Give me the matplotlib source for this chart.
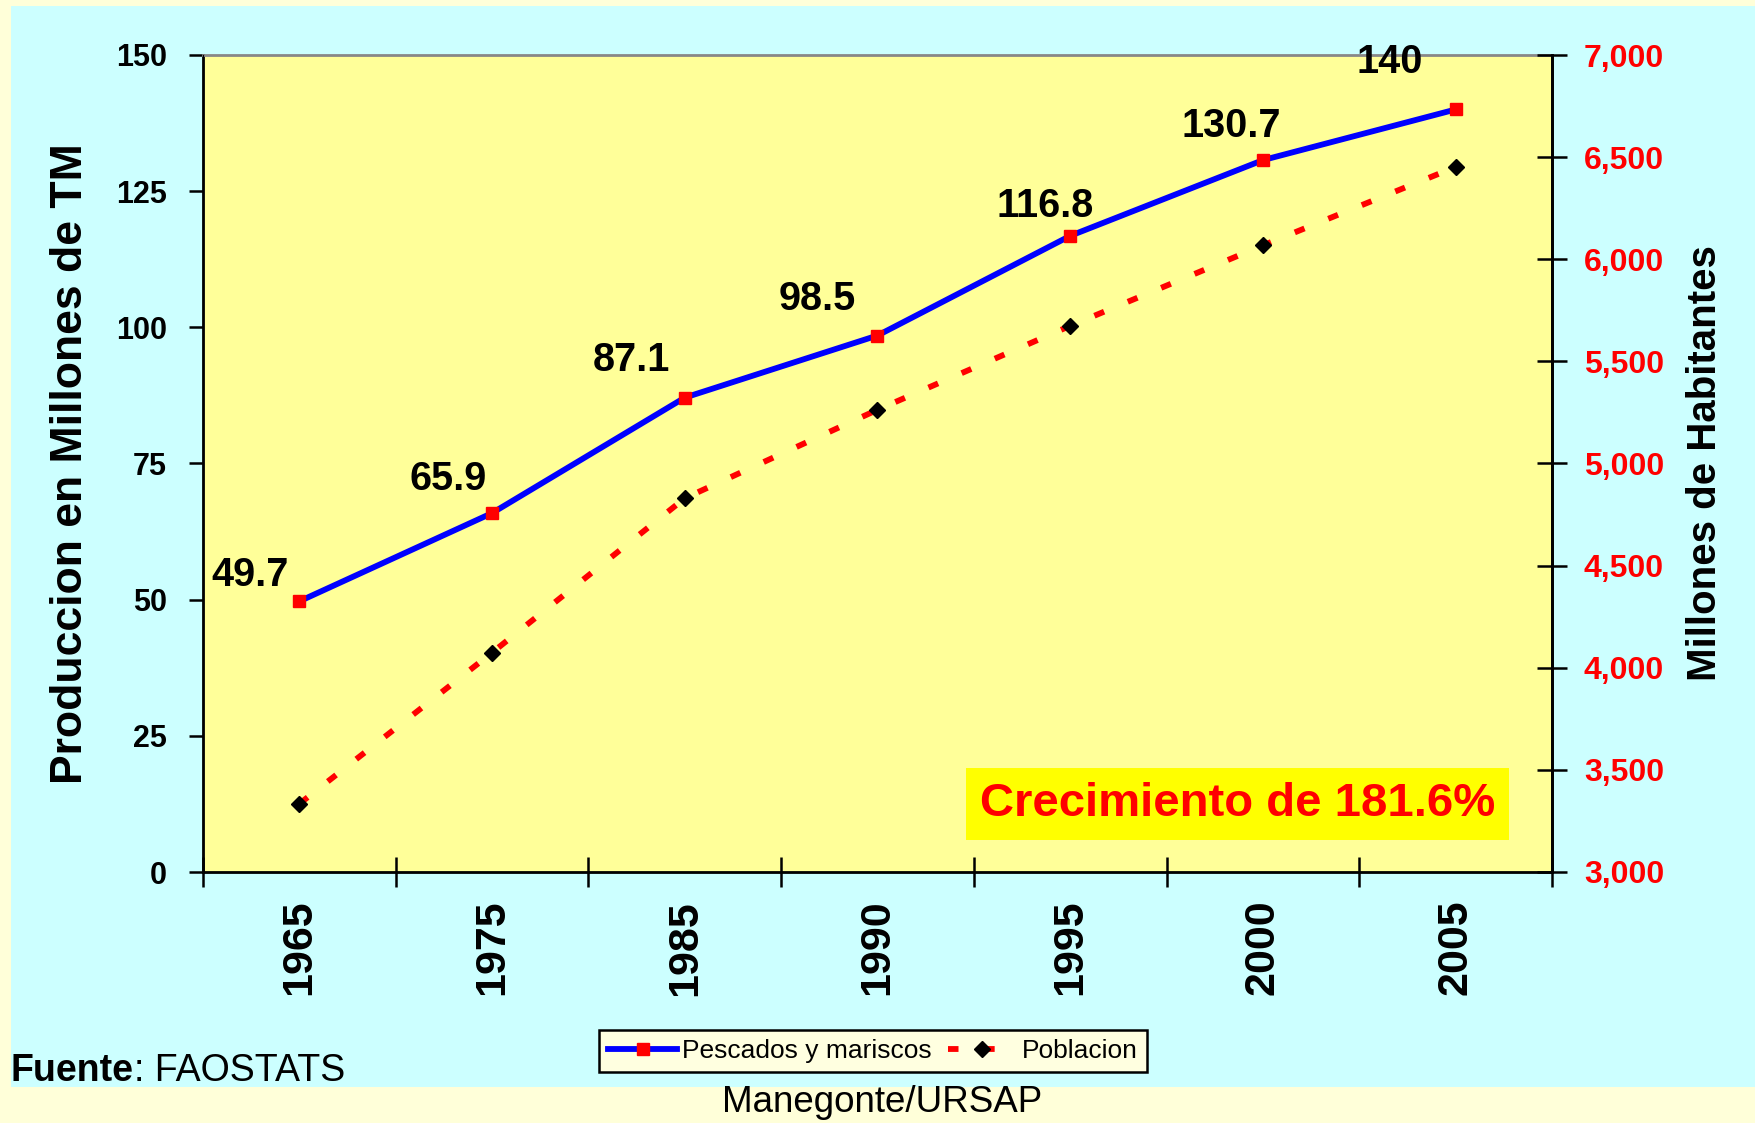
import numpy as np
import matplotlib.pyplot as plt
from matplotlib.patches import Rectangle
from matplotlib.ticker import FixedLocator, FuncFormatter

plt.rcParams['font.family'] = ['Liberation Sans', 'DejaVu Sans']

years = ['1965', '1975', '1985', '1990', '1995', '2000', '2005']
pescados = [49.7, 65.9, 87.1, 98.5, 116.8, 130.7, 140]
pescados_labels = ['49.7', '65.9', '87.1', '98.5', '116.8', '130.7', '140']
poblacion = [3334, 4074, 4830, 5263, 5674, 6068, 6452]

# label offsets in pixels (dx, dy) from each point
label_offsets = [(-49, 26), (-44, 34), (-53, 38), (-60, 37), (-25, 30), (-32, 34), (-66, 47)]

W, H = 1756, 1123
fig = plt.figure(figsize=(W / 100, H / 100), dpi=100, facecolor='#FFFFD9')

# cyan panel behind everything
fig.patches.append(Rectangle((11 / W, 1 - 1087 / H), 1 - 11 / W, (1087 - 6) / H,
                             transform=fig.transFigure, facecolor='#CCFFFF',
                             edgecolor='none', zorder=-10))

ax = fig.add_axes([203 / W, 1 - 872 / H, (1552 - 203) / W, (872 - 55) / H])
ax.set_facecolor('#FFFF99')
x = np.arange(len(years))

l1, = ax.plot(x, pescados, color='#0000FF', lw=4.2, marker='s', markersize=9,
              markerfacecolor='#FF0000', markeredgecolor='#FF0000', zorder=4,
              label='Pescados y mariscos')
for i, (v, t) in enumerate(zip(pescados, pescados_labels)):
    ax.annotate(t, (x[i], v), xytext=label_offsets[i], textcoords='offset pixels',
                ha='center', va='center', fontsize=28.5, fontweight='bold', color='black')

ax.set_xlim(-0.5, len(years) - 0.5)
ax.set_ylim(0, 150)
ax.set_yticks([0, 25, 50, 75, 100, 125, 150])
ax.tick_params(axis='y', labelsize=22, width=1.8, length=10, pad=16)
for lab in ax.get_yticklabels():
    lab.set_fontweight('bold')
ax.set_ylabel('Produccion en Millones de TM', fontsize=32, fontweight='bold', labelpad=18)

ax.xaxis.set_major_locator(FixedLocator(np.arange(-0.5, len(years), 1.0)))
ax.xaxis.set_major_formatter(FuncFormatter(lambda v, p: ''))
ax.xaxis.set_minor_locator(FixedLocator(x))
ax.set_xticklabels(years, minor=True)
ax.tick_params(axis='x', which='major', direction='inout', length=22, width=1.8)
ax.tick_params(axis='x', which='minor', length=0, labelsize=31, pad=20, labelrotation=90)
for lab in ax.get_xticklabels(minor=True):
    lab.set_fontweight('bold')

for s in ['left', 'bottom', 'right']:
    ax.spines[s].set_linewidth(2)
ax.spines['top'].set_color('#888888')
ax.spines['top'].set_linewidth(2)

ax2 = ax.twinx()
l2, = ax2.plot(x, poblacion, color='#FF0000', lw=4.2, dashes=(1.8, 4.4),
               marker='D', markersize=8.5, markerfacecolor='black',
               markeredgecolor='black', zorder=4, label='Poblacion')
ax2.set_ylim(3000, 7000)
ax2.set_yticks(np.arange(3000, 7001, 500))
ax2.yaxis.set_major_formatter(FuncFormatter(lambda v, p: f'{int(v):,}'))
ax2.tick_params(axis='y', direction='inout', length=22, width=1.8, labelsize=23,
                labelcolor='#FF0000', pad=12)
for lab in ax2.get_yticklabels():
    lab.set_fontweight('bold')
ax2.set_ylabel('Millones de Habitantes', fontsize=29, fontweight='bold', labelpad=16)
ax2.spines['right'].set_linewidth(2)
ax2.spines['top'].set_visible(False)

# growth note
ax2.text(0.767, 0.083, 'Crecimiento de 181.6%', transform=ax.transAxes,
         ha='center', va='center', fontsize=34, fontweight='bold', color='#FF0000',
         bbox=dict(boxstyle='square,pad=0.3', facecolor='#FFFF00', edgecolor='none'))

leg = fig.legend(handles=[l1, l2], loc='center', bbox_to_anchor=(873 / W, 1 - 1051 / H),
                 ncol=2, fontsize=19, frameon=True, fancybox=False, handlelength=2.6,
                 columnspacing=0.6, handletextpad=0.2, borderpad=0.35)
leg.get_frame().set_facecolor('#FFFFE0')
leg.get_frame().set_edgecolor('black')
leg.get_frame().set_linewidth(1.8)
leg.get_frame().set_alpha(1)

t1 = fig.text(11 / W, 1 - 1071 / H, 'Fuente', fontsize=27, fontweight='bold',
              ha='left', va='center')
fig.canvas.draw()
bb = t1.get_window_extent()
fig.text(bb.x1 / W, 1 - 1071 / H, ': FAOSTATS', fontsize=27, ha='left', va='center')
fig.text(882 / W, 1 - 1103 / H, 'Manegonte/URSAP', fontsize=26.5, ha='center', va='center')

fig.savefig('out.png', dpi=100, facecolor=fig.get_facecolor())
